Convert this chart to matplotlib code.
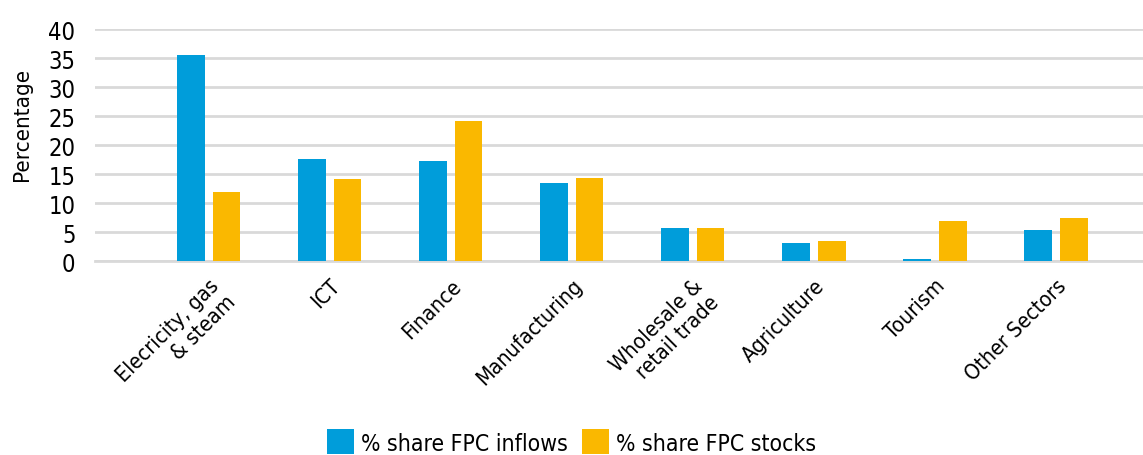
import matplotlib
matplotlib.use("Agg")
import matplotlib.pyplot as plt
import numpy as np

plt.rcParams["font.family"] = ["DejaVu Sans"]
plt.rcParams["font.stretch"] = "condensed"

sectors = ["Elecricity, gas\n& steam", "ICT", "Finance", "Manufacturing",
           "Wholesale &\nretail trade", "Agriculture", "Tourism", "Other Sectors"]
inflows = [35.5, 17.6, 17.3, 13.4, 5.8, 3.1, 0.3, 5.3]
stocks = [11.9, 14.1, 24.2, 14.3, 5.8, 3.5, 7.0, 7.4]

BLUE = "#009DDA"
YELLOW = "#FAB800"

fig = plt.figure(figsize=(11.43, 4.56), dpi=100)
ax = fig.add_axes([0.083, 0.425, 0.917, 0.509])

x = np.arange(len(sectors))
w = 0.23
ax.bar(x - 0.147, inflows, w, color=BLUE, label="% share FPC inflows", zorder=3)
ax.bar(x + 0.147, stocks, w, color=YELLOW, label="% share FPC stocks", zorder=3)

ax.set_ylim(0, 40)
ax.set_yticks(range(0, 41, 5))
ax.set_xlim(-0.94, 7.72)
ax.yaxis.grid(True, color="#D9D9D9", lw=2, zorder=0)
ax.set_axisbelow(True)
for s in ["left", "right", "top"]:
    ax.spines[s].set_visible(False)
ax.spines["bottom"].set_color("#D9D9D9")
ax.spines["bottom"].set_linewidth(2)
ax.tick_params(axis="both", length=0, labelsize=15.5)
ax.tick_params(axis="y", pad=14, labelsize=17)
ax.set_xticks(x)
ax.set_xticklabels(sectors, rotation=45, ha="right", rotation_mode="anchor",
                   multialignment="right")
ax.tick_params(axis="x", pad=10)

fig.text(22 / 1143, 1 - 124 / 456, "Percentage", rotation=90, fontsize=16,
         ha="center", va="center")

fig.legend(loc="center", bbox_to_anchor=(0.5, 1 - 443 / 456), ncol=2, frameon=False,
           fontsize=16.5, handlelength=1.2, handleheight=1.3, handletextpad=0.3,
           columnspacing=0.6)

fig.savefig("out.png", dpi=100, facecolor="white")
